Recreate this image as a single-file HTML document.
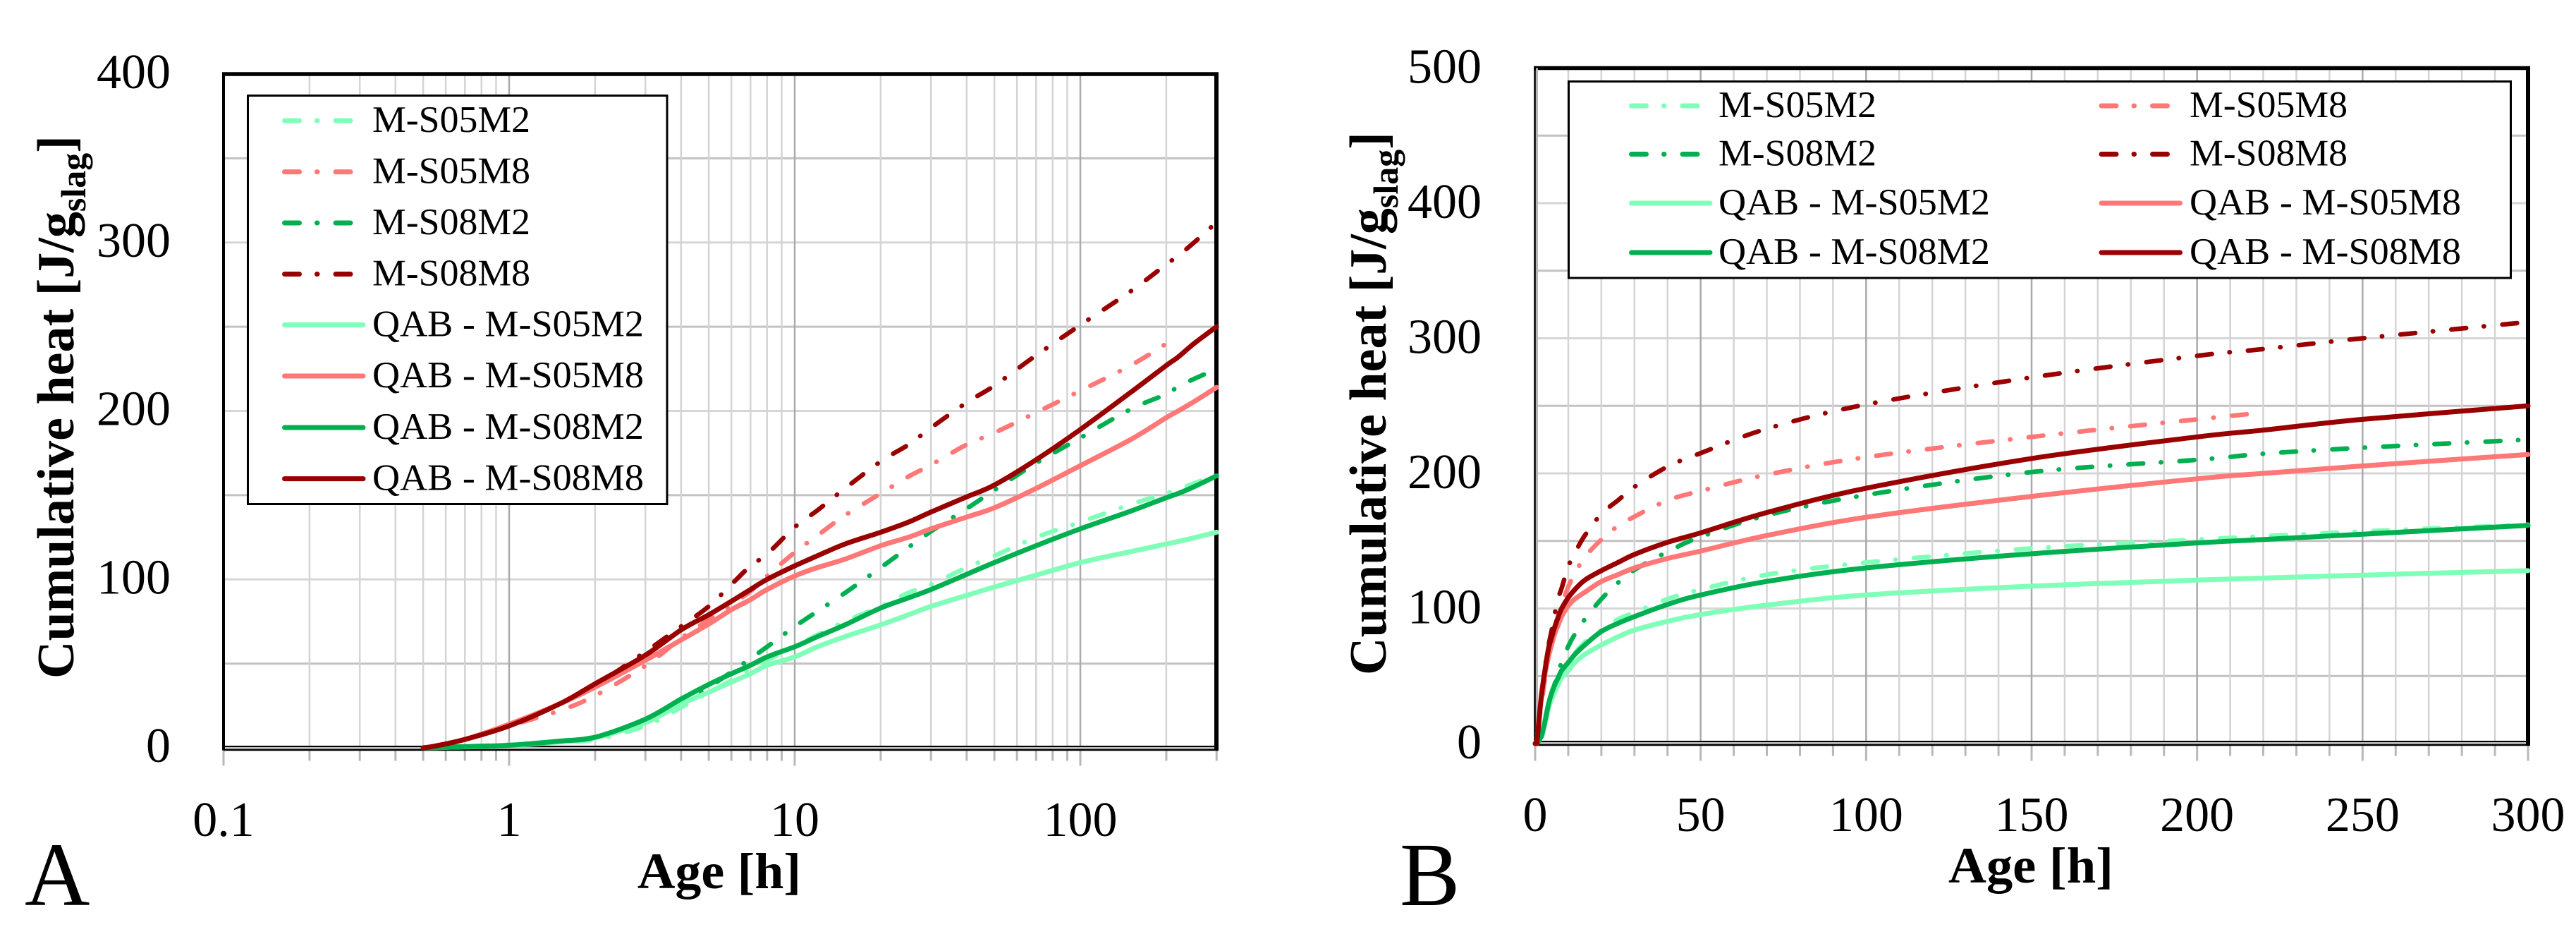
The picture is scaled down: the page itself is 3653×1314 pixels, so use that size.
<!DOCTYPE html>
<html lang="en">
<head>
<meta charset="utf-8">
<title>Cumulative heat vs age</title>
<style>
html,body{margin:0;padding:0;background:#fff}
svg{display:block}
text{font-family:"Liberation Serif",serif;fill:#000}
.ax{font-size:70px}
.lg{font-size:53px}
.tt{font-size:74px;font-weight:bold}
.pl{font-size:128px}
</style>
</head>
<body>
<svg id="fig" xmlns="http://www.w3.org/2000/svg" width="3653" height="1314" viewBox="0 0 3653 1314">
  <rect x="0" y="0" width="3653" height="1314" fill="#fff"/>
  <g id="chartA"></g>
  <g id="chartB"></g>
  <text class="tt" transform="translate(104,962) rotate(-90)">Cumulative heat [J/g<tspan font-size="50" dy="17">slag</tspan><tspan dy="-17">]</tspan></text>
  <text class="tt" transform="translate(1965,957) rotate(-90)">Cumulative heat [J/g<tspan font-size="50" dy="17">slag</tspan><tspan dy="-17">]</tspan></text>
  <text x="904" y="1259" font-size="72" font-weight="bold" textLength="232" lengthAdjust="spacingAndGlyphs">Age [h]</text>
  <text x="2763" y="1251" font-size="72" font-weight="bold" textLength="234" lengthAdjust="spacingAndGlyphs">Age [h]</text>
  <text class="pl" x="35" y="1283">A</text>
  <text class="pl" x="1985" y="1283">B</text>
</svg>
<script>
// ---------- data ----------
const ages = [0, 0.5, 0.55, 0.7, 1, 1.5, 2, 3, 4, 5, 6, 7, 8, 10, 12, 15, 20, 25, 30, 40, 50, 70, 100, 150, 200, 220, 250, 300];
const mS05M2 = [0, 0, 0.2, 0.8, 2, 3.5, 5, 13, 24, 33, 40, 47, 52, 60, 67, 75, 84, 92, 97, 107, 114, 125, 134, 144.5, 151, 153.5, 157, 162];
const mS05M8 = [0, 0, 0.5, 5, 13, 22, 31, 48.7, 65, 76, 85, 93, 102, 116, 126, 138, 151, 161, 168, 180, 187, 199, 212, 227, 240, 245, null, null];
const mS08M2 = [0, 0, 0.1, 0.8, 1.5, 4, 6.5, 16, 26, 36, 45, 53, 60, 72, 81, 92, 107, 119, 128.5, 142, 153, 169, 184, 201, 210, 214.5, 219, 225];
const mS08M8 = [0, 0, 0.5, 5, 14, 26, 37, 57, 72, 84, 97, 108, 115, 131, 141, 154, 170, 180, 190, 205, 215, 233, 251, 271, 287, 292, 300, 312];
const qabS05M2 = [0, 0, 0.1, 0.6, 1.4, 3.5, 6, 15, 26, 33, 39, 44, 49, 54, 60, 66, 73, 79, 84, 90.5, 95.5, 102.5, 110, 116.5, 121, 122.5, 124.7, 128];
const qabS05M8 = [0, 0, 1, 5, 14, 26, 36, 52, 64, 73.5, 82, 88, 94, 102, 107, 112, 120, 125, 130, 137, 142.5, 154, 167.5, 183, 196, 200, 205.5, 214];
const qabS08M2 = [0, 0, 0.1, 0.7, 1.5, 4, 6.3, 17, 29, 37.6, 44, 49, 54, 60, 66, 73, 83, 89, 94, 103, 110, 120, 130, 140.5, 148.5, 151, 155, 161.5];
const qabS08M8 = [0, 0, 1, 5, 13, 26, 38, 55, 70, 79, 87, 94, 100, 108, 114, 121, 128, 134, 140, 149, 156, 171, 189, 211, 227, 232, 240, 250];
const seriesValues = [mS05M2, mS05M8, mS08M2, mS08M8, qabS05M2, qabS05M8, qabS08M2, qabS08M8];
const seriesNames = ["M-S05M2", "M-S05M8", "M-S08M2", "M-S08M8", "QAB - M-S05M2", "QAB - M-S05M8", "QAB - M-S08M2", "QAB - M-S08M8"];
const xTickLabelsA = ["0.1", "1", "10", "100"];
const xTickValuesA = [0.1, 1, 10, 100];
const yTickLabelsA = ["0", "100", "200", "300", "400"];
const yTickValuesA = [0, 100, 200, 300, 400];
const xTickLabelsB = ["0", "50", "100", "150", "200", "250", "300"];
const xTickValuesB = [0, 50, 100, 150, 200, 250, 300];
const yTickLabelsB = ["0", "100", "200", "300", "400", "500"];
const yTickValuesB = [0, 100, 200, 300, 400, 500];

// ---------- styles ----------
const palette = ["#80ffb8", "#ff7777", "#00b050", "#990000"];
const DASH = "21 25 0.5 26";
const NS = "http://www.w3.org/2000/svg";

function mk(parent, tag, attrs, text) {
  const el = document.createElementNS(NS, tag);
  for (const k in attrs) el.setAttribute(k, attrs[k]);
  if (text !== undefined) el.textContent = text;
  parent.appendChild(el);
  return el;
}
function slug(s) { return s.toLowerCase().replace(/[^a-z0-9]+/g, '-'); }

// Smooth curve through pixel points (Catmull-Rom), control points clamped to
// the segment's vertical range so flat starts do not overshoot.
function smoothPath(p) {
  let d = 'M' + p[0][0].toFixed(1) + ',' + p[0][1].toFixed(1);
  for (let i = 0; i < p.length - 1; i++) {
    const a = p[Math.max(0, i - 1)], b = p[i], c = p[i + 1], e = p[Math.min(p.length - 1, i + 2)];
    const lo = Math.min(b[1], c[1]), hi = Math.max(b[1], c[1]);
    const c1x = b[0] + (c[0] - a[0]) / 6;
    const c1y = Math.min(hi, Math.max(lo, b[1] + (c[1] - a[1]) / 6));
    const c2x = c[0] - (e[0] - b[0]) / 6;
    const c2y = Math.min(hi, Math.max(lo, c[1] - (e[1] - b[1]) / 6));
    d += 'C' + c1x.toFixed(1) + ',' + c1y.toFixed(1) + ' ' + c2x.toFixed(1) + ',' + c2y.toFixed(1) + ' ' + c[0].toFixed(1) + ',' + c[1].toFixed(1);
  }
  return d;
}

function drawChart(root, c) {
  const xp = c.x, yp = c.y;
  const B = c.frame;

  // horizontal grid every 50
  for (let v = 50; v < c.yMax; v += 50) {
    const g = mk(root, 'line', { x1: B.l, x2: B.r, y1: yp(v), y2: yp(v), stroke: v % 100 === 0 ? '#d6d6d6' : '#c2c2c2', 'stroke-width': 3 });
    
    
  }
  // vertical grid
  c.minorX.forEach(function (v) {
    const g = mk(root, 'line', { x1: xp(v), x2: xp(v), y1: B.t, y2: B.b, stroke: '#d4d4d4', 'stroke-width': 2.5 });
    
    
    const t = mk(root, 'line', { x1: xp(v), x2: xp(v), y1: B.b, y2: B.b + c.minorTick, stroke: '#b8b8b8', 'stroke-width': 3 });
    
    
  });
  c.xTicks.forEach(function (v) {
    const g = mk(root, 'line', { x1: xp(v), x2: xp(v), y1: B.t, y2: B.b, stroke: '#aaaaaa', 'stroke-width': 2.5 });
    
    
    const t = mk(root, 'line', { x1: xp(v), x2: xp(v), y1: B.b, y2: B.b + c.majorTick, stroke: '#b8b8b8', 'stroke-width': 3 });
    
    
  });

  // frame
  const gb = mk(root, 'line', { x1: B.l, x2: B.r + 3, y1: B.b, y2: B.b, stroke: '#bdbdbd', 'stroke-width': 4 });
  
  
  const b1 = mk(root, 'line', { x1: B.l, x2: B.r + 3, y1: B.b - 2.5, y2: B.b - 2.5, stroke: '#000', 'stroke-width': 2 });
  
  
  const b2 = mk(root, 'line', { x1: B.l, x2: B.r + 3, y1: B.b + 2.5, y2: B.b + 2.5, stroke: '#000', 'stroke-width': 2.5 });
  
  
  const ft = mk(root, 'line', { x1: B.l - 2, x2: B.r + 3, y1: B.t, y2: B.t, stroke: '#000', 'stroke-width': 5.5 });
  
  
  const fr = mk(root, 'line', { x1: B.r, x2: B.r, y1: B.t - 2.5, y2: B.b + 3, stroke: '#000', 'stroke-width': 6 });
  
  
  if (c.doubleLeft) {
    const fg = mk(root, 'line', { x1: B.l + 2.5, x2: B.l + 2.5, y1: B.t, y2: B.b, stroke: '#b5b5b5', 'stroke-width': 3 });
    
    
    const fl = mk(root, 'line', { x1: B.l - 0.5, x2: B.l - 0.5, y1: B.t - 2.5, y2: B.b + 3, stroke: '#000', 'stroke-width': 2.5 });
    
    
  } else {
    const fl = mk(root, 'line', { x1: B.l, x2: B.l, y1: B.t - 2.5, y2: B.b + 3, stroke: '#000', 'stroke-width': 4 });
    
    
  }

  // tick labels
  c.yTicks.forEach(function (v, i) {
    const t = mk(root, 'text', { x: c.yLabelX, y: yp(v) + c.yLabelDy, 'text-anchor': 'end', class: 'ax' }, c.yLabels[i]);
    
    
  });
  c.xTicks.forEach(function (v, i) {
    const t = mk(root, 'text', { x: xp(v), y: c.xLabelY, 'text-anchor': 'middle', class: 'ax' }, c.xLabels[i]);
    
    
  });

  // legend
  const L = c.legend;
  const lg = mk(root, 'g', {});
  
  
  const box = mk(lg, 'rect', { x: L.x, y: L.y, width: L.w, height: L.h, fill: '#fff', stroke: '#000', 'stroke-width': 3 });
  
  
  seriesNames.forEach(function (name, i) {
    const solid = i >= 4, k = i % 4;
    const col = L.twoCols ? k % 2 : 0;
    const row = L.twoCols ? (solid ? 2 : 0) + (k >> 1) : i;
    const ry = L.rows[row];
    const sx = L.sampleX[col], tx = L.textX[col];
    const entry = mk(lg, 'g', {});
    
    
    const attrs = { x1: sx, x2: solid ? sx + L.solidLen : sx + 93.5, y1: ry, y2: ry, stroke: palette[k], 'stroke-width': 7, 'stroke-linecap': 'round' };
    if (!solid) attrs['stroke-dasharray'] = DASH;
    const swatch = mk(entry, 'line', attrs);
    
    
    const label = mk(entry, 'text', { x: tx, y: ry + 16, class: 'lg', textLength: solid ? 385 : 224, lengthAdjust: 'spacingAndGlyphs' }, name);
    
    
  });

  // series
  seriesValues.forEach(function (vals, i) {
    const pts = [];
    ages.forEach(function (a, j) {
      if (vals[j] === null || a < c.minAge) return;
      pts.push([xp(a), yp(vals[j])]);
    });
    const attrs = { d: smoothPath(pts), fill: 'none', stroke: palette[i % 4], 'stroke-width': i < 4 ? 6.5 : 7, 'stroke-linecap': 'round', 'stroke-linejoin': 'round' };
    if (i < 4) attrs['stroke-dasharray'] = DASH;
    const line = mk(root, 'path', attrs);
    
    
  });
}

// ---------- chart A : log age ----------
const logMinors = [];
[0.1, 1, 10, 100].forEach(function (d) {
  for (let m = 2; m <= 9; m++) { if (d * m <= 300) logMinors.push(d * m); }
});
drawChart(document.getElementById('chartA'), {
  x: function (v) { return 317 + (Math.log10(v) + 1) * 405; },
  y: function (v) { return 1060 - v * 2.3875; },
  yMax: 400,
  minAge: 0.5,
  frame: { l: 317, r: 1725, t: 105, b: 1060.5 },
  minorX: logMinors,
  xTicks: xTickValuesA,
  xLabels: xTickLabelsA,
  yTicks: yTickValuesA,
  yLabels: yTickLabelsA,
  minorTick: 18,
  majorTick: 25,
  yLabelX: 242,
  yLabelDy: 20,
  xLabelY: 1185,
  doubleLeft: false,
  legend: {
    x: 351.5, y: 135.5, w: 594.5, h: 579,
    rows: [171, 243.6, 316, 388.5, 460.5, 533, 606, 678.6],
    sampleX: [403.5], textX: [528], solidLen: 111.5, twoCols: false
  }
});

// ---------- chart B : linear age ----------
const linMinors = [];
for (let v = 10; v < 300; v += 10) { if (v % 50 !== 0) linMinors.push(v); }
drawChart(document.getElementById('chartB'), {
  x: function (v) { return 2177 + v * 4.6933; },
  y: function (v) { return 1054 - v * 1.915; },
  yMax: 500,
  minAge: 0,
  frame: { l: 2177, r: 3585, t: 96.5, b: 1053.5 },
  minorX: linMinors,
  xTicks: xTickValuesB,
  xLabels: xTickLabelsB,
  yTicks: yTickValuesB,
  yLabels: yTickLabelsB,
  minorTick: 18,
  majorTick: 25,
  yLabelX: 2101,
  yLabelDy: 21,
  xLabelY: 1178,
  doubleLeft: true,
  legend: {
    x: 2224.5, y: 115.5, w: 1336, h: 278.5,
    rows: [150, 218.5, 288, 358],
    sampleX: [2313.5, 2980], textX: [2437, 3105], solidLen: 111.5, twoCols: true
  }
});
</script>
</body>
</html>
